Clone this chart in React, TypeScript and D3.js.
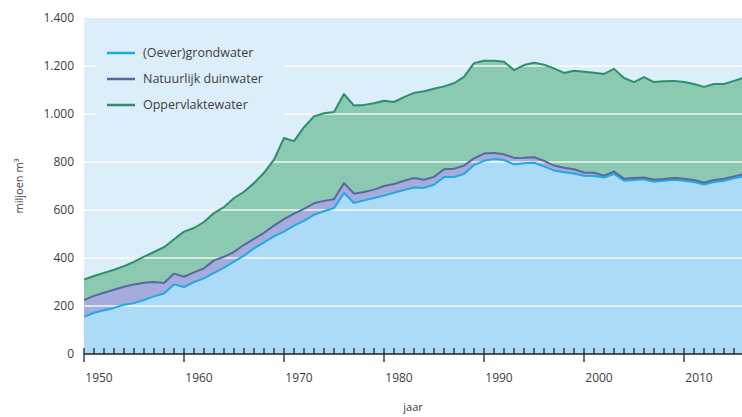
import React from 'react';
import * as d3 from 'd3';

const years = d3.range(1950, 2017);

// miljoen m3 per jaar, per bron
const grondwater = [
  155, 172, 182, 192, 205, 212, 225, 240, 252, 290,
  279, 300, 315, 338, 360, 385, 410, 440, 465, 490,
  510, 535, 555, 580, 595, 608, 671, 629, 640, 650,
  660, 672, 683, 694, 692, 705, 737, 737, 750, 787,
  805, 812, 808, 790, 795, 797, 782, 765, 757, 752,
  743, 742, 735, 750, 722, 725, 728, 718, 722, 726,
  722, 717, 706, 717, 722, 732, 740
];
const duinwater = [
  70, 70, 73, 76, 75, 78, 72, 60, 44, 45,
  43, 40, 42, 52, 45, 40, 45, 40, 40, 45,
  52, 50, 50, 48, 43, 37, 41, 39, 35, 35,
  40, 36, 39, 39, 34, 33, 33, 35, 35, 28,
  30, 26, 24, 27, 23, 23, 23, 20, 19, 18,
  13, 13, 8, 10, 8, 8, 7, 8, 7, 7,
  8, 8, 8, 8, 8, 8, 10
];
const oppervlaktewater = [
  85, 83, 83, 83, 86, 94, 109, 125, 149, 143,
  188, 185, 193, 197, 207, 225, 221, 232, 250, 275,
  338, 302, 340, 362, 365, 363, 371, 367, 363, 360,
  355, 342, 348, 355, 369, 367, 345, 356, 370, 397,
  387, 384, 386, 366, 386, 394, 400, 405, 395, 410,
  420, 417, 424, 428, 420, 400, 419, 407, 407, 405,
  403, 400, 399, 400, 395, 398, 402
];

const yTicks = [0, 200, 400, 600, 800, 1000, 1200, 1400];
const gridValues = [200, 400, 600, 800, 1000, 1200];
const decades = [1950, 1960, 1970, 1980, 1990, 2000, 2010];

const series = [
  { key: 'grond', label: '(Oever)grondwater', fill: '#acdbf7', stroke: '#22a9e1' },
  { key: 'duin', label: 'Natuurlijk duinwater', fill: '#a5abdc', stroke: '#56699f' },
  { key: 'opp', label: 'Oppervlaktewater', fill: '#8bc9b0', stroke: '#2a8f6e' }
];

const W = 742;
const H = 417;
const margins = { l: 84, t: 18, r: 0, b: 63 };
const font = "'Open Sans', 'DejaVu Sans', sans-serif";
const textColor = '#3d3d3d';
const bg = '#dcEEFA';

const nl = d3.formatLocale({ decimal: ',', thousands: '.', grouping: [3], currency: ['€', ''] });
const fmt = nl.format(',d');

export default function App() {
  const x = d3.scaleLinear().domain([1950, 2016]).range([margins.l, margins.l + 660]);
  const y = d3.scaleLinear().domain([0, 1400]).range([H - margins.b, margins.t]);

  const table = years.map((yr, i) => ({
    year: yr,
    grond: grondwater[i],
    duin: duinwater[i],
    opp: oppervlaktewater[i]
  }));
  const stacked = d3.stack().keys(series.map(s => s.key))(table as any);

  const area = d3
    .area<any>()
    .x(d => x(d.data.year))
    .y0(d => y(d[0]))
    .y1(d => y(d[1]));
  const line = d3
    .line<any>()
    .x(d => x(d.data.year))
    .y(d => y(d[1]));

  const y0 = y(0);

  return (
    <svg
      width={W}
      height={H}
      style={{ position: 'absolute', left: 0, top: 0, display: 'block', background: '#fff' }}
    >
      <defs>
        <clipPath id="plotclip">
          <rect x={margins.l} y={margins.t} width={W - margins.l} height={y0 - margins.t} />
        </clipPath>
      </defs>
      <rect x={margins.l} y={margins.t} width={W - margins.l} height={y0 - margins.t} fill={bg} />

      <g clipPath="url(#plotclip)">
        {stacked.map((s, i) => (
          <path key={'a' + i} d={area(s) || ''} fill={series[i].fill} />
        ))}
        {gridValues.map(v => (
          <line
            key={'g' + v}
            x1={margins.l}
            x2={W}
            y1={y(v)}
            y2={y(v)}
            stroke="#fff"
            strokeOpacity={0.65}
            strokeWidth={2}
          />
        ))}
      </g>

      {/* legenda */}
      <rect x={96} y={30} width={187} height={108} fill={bg} />
      {series.map((s, i) => (
        <g key={'l' + i} transform={`translate(107,${53 + i * 26})`}>
          <line x1={0} x2={28} y1={0} y2={0} stroke={s.stroke} strokeWidth={2.5} />
          <text x={36} y={0} dy="0.35em" fontFamily={font} fontSize={12.5} fill={textColor}>
            {s.label}
          </text>
        </g>
      ))}

      <g clipPath="url(#plotclip)">
        {stacked.map((s, i) => (
          <path
            key={'s' + i}
            d={line(s) || ''}
            fill="none"
            stroke={series[i].stroke}
            strokeWidth={2}
            strokeLinejoin="round"
          />
        ))}
      </g>

      {/* y-as */}
      {yTicks.map(v => (
        <text
          key={'yt' + v}
          x={74}
          y={y(v)}
          dy="0.35em"
          textAnchor="end"
          fontFamily={font}
          fontSize={12}
          fill={textColor}
        >
          {fmt(v)}
        </text>
      ))}
      <text
        transform={`translate(19,${(y0 + margins.t) / 2}) rotate(-90)`}
        textAnchor="middle"
        dy="0.35em"
        fontFamily={font}
        fontSize={11}
        fill={textColor}
      >
        miljoen m³
      </text>

      {/* x-as */}
      <line x1={margins.l} x2={W} y1={y0} y2={y0} stroke="#222" strokeWidth={1.5} />
      {years.map(yr => {
        const major = yr % 10 === 0;
        return (
          <line
            key={'xt' + yr}
            x1={x(yr)}
            x2={x(yr)}
            y1={y0 - 6}
            y2={major ? y0 + 8 : y0}
            stroke="#222"
            strokeWidth={1.3}
          />
        );
      })}
      {decades.map(d => (
        <text
          key={'xl' + d}
          x={x(d) + 15}
          y={378}
          dy="0.35em"
          textAnchor="middle"
          fontFamily={font}
          fontSize={12}
          fill={textColor}
        >
          {d}
        </text>
      ))}
      <text x={413} y={407} dy="0.35em" textAnchor="middle" fontFamily={font} fontSize={11} fill={textColor}>
        jaar
      </text>
    </svg>
  );
}
